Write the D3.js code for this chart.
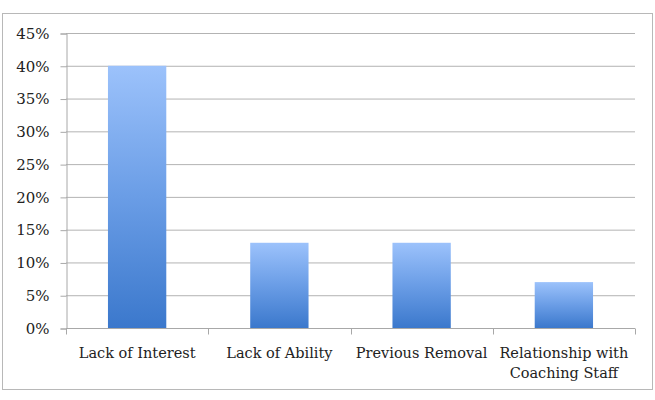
<!DOCTYPE html>
<html>
<head>
<meta charset="utf-8">
<script src="https://cdn.jsdelivr.net/npm/d3@7"></script>
<style>
  body { margin: 0; background: #fff; }
  text { font-family: "DejaVu Serif", serif; fill: #222; }
</style>
</head>
<body>
<div id="container"></div>
<script>
/* DATA */
const categories = ["Lack of Interest", "Lack of Ability", "Previous Removal", "Relationship with Coaching Staff"]
const values = [0.40, 0.13, 0.13, 0.07]
const yTicks = [0, 0.05, 0.10, 0.15, 0.20, 0.25, 0.30, 0.35, 0.40, 0.45]

/* LAYOUT */
const width = 655, height = 400
const margin = { top: 33, right: 20, bottom: 72, left: 66 }

const svg = d3.select('#container')
  .append('svg')
  .attr('width', width)
  .attr('height', height)

// outer frame
svg.append('rect')
  .attr('x', 2.5).attr('y', 13.5)
  .attr('width', 650).attr('height', 376)
  .attr('fill', '#fff')
  .attr('stroke', '#b8b8b8')

const xScale = d3.scaleBand()
  .domain(categories)
  .range([margin.left, width - margin.right])
  .paddingInner(0.59)
  .paddingOuter(0.295)

const yScale = d3.scaleLinear()
  .domain([0, 0.45])
  .range([height - margin.bottom, margin.top])

const defs = svg.append('defs')
const grad = defs.append('linearGradient')
  .attr('id', 'barGrad')
  .attr('x1', 0).attr('y1', 0).attr('x2', 0).attr('y2', 1)
grad.append('stop').attr('offset', '0%').attr('stop-color', '#9cc2fb')
grad.append('stop').attr('offset', '50%').attr('stop-color', '#6a9de6')
grad.append('stop').attr('offset', '100%').attr('stop-color', '#3b78cc')

// gridlines
svg.append('g')
  .selectAll('line')
  .data(yTicks.slice(1))
  .join('line')
  .attr('x1', margin.left)
  .attr('x2', width - margin.right)
  .attr('y1', d => yScale(d) + 0.5)
  .attr('y2', d => yScale(d) + 0.5)
  .attr('stroke', '#b3b3b3')

// bars
svg.append('g')
  .selectAll('rect')
  .data(values)
  .join('rect')
  .attr('x', (d, i) => xScale(categories[i]))
  .attr('y', d => yScale(d))
  .attr('width', xScale.bandwidth())
  .attr('height', d => yScale(0) - yScale(d))
  .attr('fill', 'url(#barGrad)')

// y axis
const yAxis = d3.axisLeft(yScale)
  .tickValues(yTicks)
  .tickSize(6)
  .tickFormat(d3.format('.0%'))
const yAxisGroup = svg.append('g')
  .attr('transform', `translate(${margin.left + 0.5}, 0.5)`)
  .attr('font-size', null)
  .attr('font-family', null)
  .call(yAxis)
yAxisGroup.select('.domain').attr('stroke', '#a8a8a8')
yAxisGroup.selectAll('.tick line').attr('stroke', '#a8a8a8')
yAxisGroup.selectAll('.tick text')
  .attr('x', -17)
  .attr('font-size', 15)
  .attr('font-family', '"DejaVu Serif", serif')
  .attr('fill', '#222')

// x axis
const xAxisGroup = svg.append('g')
  .attr('transform', `translate(0, ${yScale(0) + 0.5})`)
xAxisGroup.append('line')
  .attr('x1', margin.left).attr('x2', width - margin.right)
  .attr('stroke', '#a8a8a8')
const step = xScale.step()
const bounds = d3.range(categories.length + 1).map(i => margin.left + i * step)
xAxisGroup.selectAll('.xtick')
  .data(bounds)
  .join('line')
  .attr('class', 'xtick')
  .attr('x1', d => Math.round(d) + 0.5).attr('x2', d => Math.round(d) + 0.5)
  .attr('y1', 0).attr('y2', 6)
  .attr('stroke', '#a8a8a8')

const labelLines = [["Lack of Interest"], ["Lack of Ability"], ["Previous Removal"], ["Relationship with", "Coaching Staff"]]
const labels = xAxisGroup.selectAll('.xlabel')
  .data(categories)
  .join('text')
  .attr('class', 'xlabel')
  .attr('text-anchor', 'middle')
  .attr('font-size', 14.5)
  .attr('transform', d => `translate(${xScale(d) + xScale.bandwidth() / 2}, 29)`)
labels.selectAll('tspan')
  .data((d, i) => labelLines[i])
  .join('tspan')
  .attr('x', 0)
  .attr('dy', (d, i) => i === 0 ? 0 : 20)
  .text(d => d)
</script>
</body>
</html>
